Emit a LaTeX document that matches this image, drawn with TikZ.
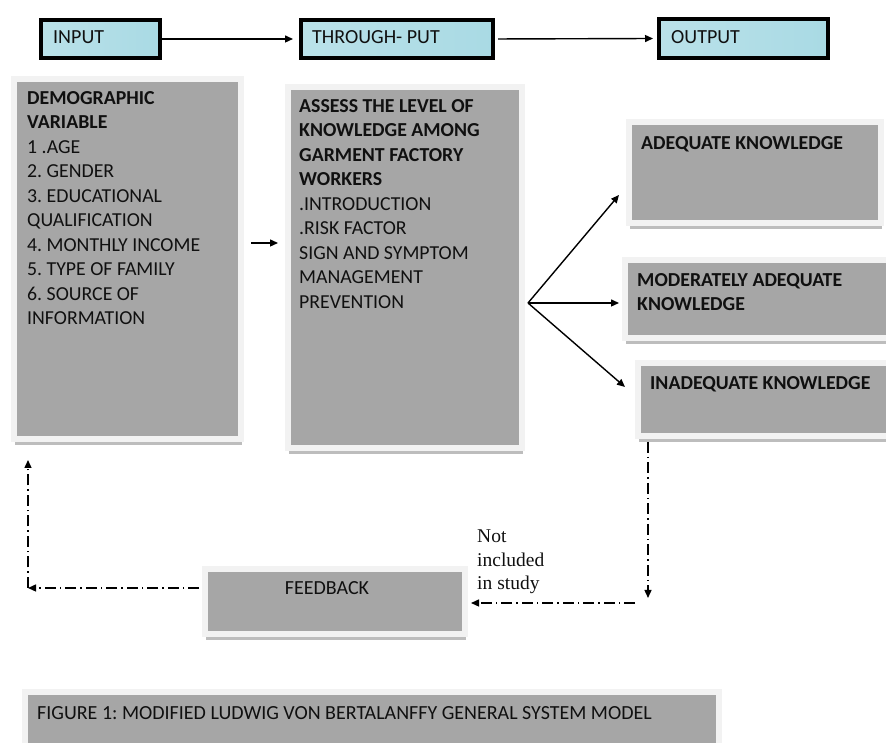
\documentclass[tikz,border=0pt]{standalone}
\usepackage{fontspec}
\setmainfont{Carlito}
\newfontfamily\serifnote{Liberation Serif}
\usetikzlibrary{arrows.meta,shadows,calc}
\definecolor{boxgray}{HTML}{A6A6A6}
\definecolor{boxedge}{HTML}{F2F2F2}
\definecolor{boxshadow}{HTML}{BDBDBD}
\definecolor{topblue}{HTML}{A9DAE4}
\definecolor{txt}{HTML}{101010}
\frenchspacing
\begin{document}
\begin{tikzpicture}[x=1pt,y=1pt,
  gbox/.style={rectangle, fill=boxgray, draw=boxedge, line width=6pt, inner sep=0pt,
    anchor=north west, drop shadow={shadow xshift=1pt, shadow yshift=-6pt, fill=boxshadow, opacity=1}},
  tbox/.style={rectangle, left color=topblue!80!white, right color=topblue, draw=black, line width=4pt,
    inner sep=0pt, anchor=north west},
  boxtxt/.style={text=txt, inner sep=0pt, anchor=north west, align=left,
    font=\fontsize{19.8}{24.5}\selectfont},
  toptxt/.style={text=txt, inner sep=0pt, anchor=west, font=\fontsize{20}{23}\selectfont},
  arr/.style={draw=black, line width=1.4pt, -{Triangle[length=8pt,width=7pt]}},
  dd/.style={draw=black, line width=1.4pt, dash pattern=on 11pt off 4pt on 1.5pt off 4pt,
    -{Triangle[length=8pt,width=7pt]}}
]
\useasboundingbox (0,0) rectangle (886,743);
\begin{scope}
\clip (0,0) rectangle (886,743);
% top boxes
\node[tbox, minimum width=119pt, minimum height=38pt] (in) at (39,725) {};
\node[tbox, minimum width=192pt, minimum height=38pt] (thru) at (299,725) {};
\node[tbox, minimum width=169pt, minimum height=39pt] (out) at (657,726) {};
\node[toptxt] (inT) at (53,706) {INPUT};
\node[toptxt] (thruT) at (312,706) {THROUGH- PUT};
\node[toptxt] (outT) at (671,706) {OUTPUT};
\draw[arr, shorten >=6pt] (in.east) -- (thru.west);
\draw[arr, shorten >=4pt, shorten <=3pt] (thru.east) -- (out.west);
% gray boxes
\node[gbox, minimum width=227pt, minimum height=360pt] (L) at (11,667) {};
\node[gbox, minimum width=234pt, minimum height=361pt] (M) at (285,659) {};
\node[gbox, minimum width=252pt, minimum height=101pt] (A) at (626,624) {};
\node[gbox, minimum width=280pt, minimum height=78pt] (MA) at (622,486) {};
\node[gbox, minimum width=280pt, minimum height=73pt] (IA) at (635,383) {};
\node[gbox, minimum width=260pt, minimum height=65pt] (FB) at (202,177) {};
\node[gbox, minimum width=694pt, minimum height=54pt] (CAP) at (22,54) {};
% texts
\node[boxtxt] (LT) at (27,652) {\textbf{DEMOGRAPHIC}\\\textbf{VARIABLE}\\1 .AGE\\2. GENDER\\3. EDUCATIONAL\\QUALIFICATION\\4. MONTHLY INCOME\\5. TYPE OF FAMILY\\6. SOURCE OF\\INFORMATION};
\node[boxtxt] (MT) at (299,644) {\textbf{ASSESS THE LEVEL OF}\\\textbf{KNOWLEDGE AMONG}\\\textbf{GARMENT FACTORY}\\\textbf{WORKERS}\\.INTRODUCTION\\.RISK FACTOR\\SIGN AND SYMPTOM\\MANAGEMENT\\PREVENTION};
\node[boxtxt] (AT) at (641,607) {\textbf{ADEQUATE KNOWLEDGE}};
\node[boxtxt] (MAT) at (637,470) {\textbf{MODERATELY ADEQUATE}\\\textbf{KNOWLEDGE}};
\node[boxtxt] (IAT) at (650,367) {\textbf{INADEQUATE KNOWLEDGE}};
\node[toptxt, anchor=center] (FBT) at (327,155) {FEEDBACK};
\node[toptxt] (CAPT) at (37,30) {FIGURE 1: MODIFIED LUDWIG VON BERTALANFFY GENERAL SYSTEM MODEL};
\node[text=txt, inner sep=0pt, anchor=north west, align=left,
  font=\serifnote\fontsize{19.5}{23.5}\selectfont] (NI) at (477,213) {Not\\included\\in study};
% solid arrows
\draw[arr] ($(L.east |- 0,500)+(7,0)$) -- ($(M.west |- 0,500)+(-7,0)$);
\coordinate (f0) at (528,440);
\coordinate (fA) at (619,548);
\coordinate (fM) at (619,440);
\coordinate (fI) at (625,356);
\draw[arr] (f0) -- (fA);
\draw[arr] (f0) -- (fM);
\draw[arr] (f0) -- (fI);
% dash-dot feedback loop
\coordinate (d1) at (648,301);
\coordinate (d2) at (648,145);
\coordinate (d3) at (635,140);
\coordinate (c1) at (28,155);
\coordinate (c2) at (28,283);
\draw[dd] (d1) -- (d2);
\draw[dd] (d3) -- ($(d3 -| FB.east)+(3,0)$);
\draw[dd] ($(FB.west |- c1)+(-3,0)$) -- (c1);
\draw[dd] (c1) -- (c2);
\end{scope}
\end{tikzpicture}
\end{document}
